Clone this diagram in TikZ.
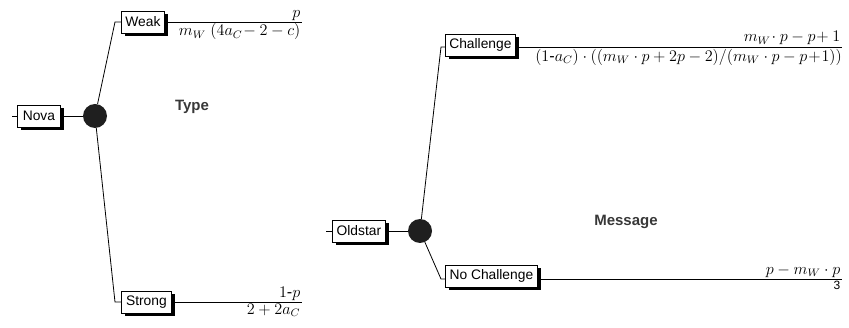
\documentclass[tikz,border=0pt]{standalone}
\usepackage{fontspec}
\setmainfont{Liberation Sans}
\newcommand{\pf}[1]{\scalebox{1.35}{$#1$}}
\newcommand{\hy}{\mbox{-}}
\begin{document}
\begin{tikzpicture}[x=1pt,y=-1pt,
  lbl/.style={draw, fill=white, line width=0.8pt, inner xsep=0.5pt, inner ysep=1pt, minimum height=22pt, anchor=west,
    font=\fontsize{13.8}{15}\selectfont,
    preaction={fill=black, transform canvas={xshift=3.2pt, yshift=-3.2pt}}},
  chance/.style={circle, fill=black!88, inner sep=0pt, minimum size=24pt},
  edge/.style={line width=0.8pt},
  pay/.style={inner sep=1.5pt, font=\fontsize{12}{14}\selectfont},
  title/.style={font=\bfseries\fontsize{15}{17}\selectfont, text=black!78}]
\useasboundingbox (0,0) rectangle (849,328);
% left tree
\node[lbl, minimum width=43pt] (nova) at (17,116) {Nova};
\node[chance] (c1) at (95,116) {};
\coordinate (n0) at (12,116);
\node[lbl, minimum width=43pt] (weak) at (121,22) {Weak};
\node[lbl, minimum width=50pt] (strong) at (121,302) {Strong};
\coordinate (wk) at (115,22);
\coordinate (st) at (115,302);
\coordinate (wend) at (302,22);
\coordinate (send) at (302,302);
\draw[edge] (n0) -- (nova.west);
\draw[edge] (nova.east) -- (c1);
\draw[edge] (c1) -- (wk) -- (weak.west);
\draw[edge] (c1) -- (st) -- (strong.west);
\draw[edge] (weak.east) -- (wend);
\draw[edge] (strong.east) -- (send);
\node[pay, anchor=south east] (wp1) at (wend) {\pf{p}};
\node[pay, anchor=north east] (wp2) at (wend) {\pf{m_W\;(4a_C\!-2-c)}};
\node[pay, anchor=south east] (sp1) at (send) {\pf{1\hy p}};
\node[pay, anchor=north east] (sp2) at (send) {\pf{2+2a_C}};
\node[title] (type) at (192,107) {Type};
% right tree
\node[lbl, minimum width=53pt] (old) at (332,231) {Oldstar};
\node[chance] (c2) at (420,231) {};
\coordinate (o0) at (326,231);
\node[lbl, minimum width=70pt] (chal) at (445,45) {Challenge};
\node[lbl, minimum width=92pt] (noch) at (445,276) {No Challenge};
\coordinate (ch) at (441,47);
\coordinate (nc) at (441,279);
\coordinate (cend) at (842,47);
\coordinate (nend) at (842,279);
\draw[edge] (o0) -- (old.west);
\draw[edge] (old.east) -- (c2);
\draw[edge] (c2) -- (ch) -- (ch -| chal.west);
\draw[edge] (c2) -- (nc) -- (nc -| noch.west);
\draw[edge] (chal.east |- cend) -- (cend);
\draw[edge] (noch.east |- nend) -- (nend);
\node[pay, anchor=south east, yshift=0.5pt] (cp1) at (cend) {\pf{m_W\!\cdot p-p\!+1}};
\node[pay, anchor=north east, inner xsep=0pt, yshift=-0.5pt] (cp2) at (cend) {\pf{(1\hy a_C)\cdot((m_W\cdot p+2p-2)/(m_W\cdot p-p\!+\!1))}};
\node[pay, anchor=north east] (np2) at (nend) {3};
\node[pay, anchor=south east] (np1) at (nend) {\pf{p-m_W\cdot p}};
\node[title] (msg) at (626,222) {Message};
\end{tikzpicture}
\end{document}
